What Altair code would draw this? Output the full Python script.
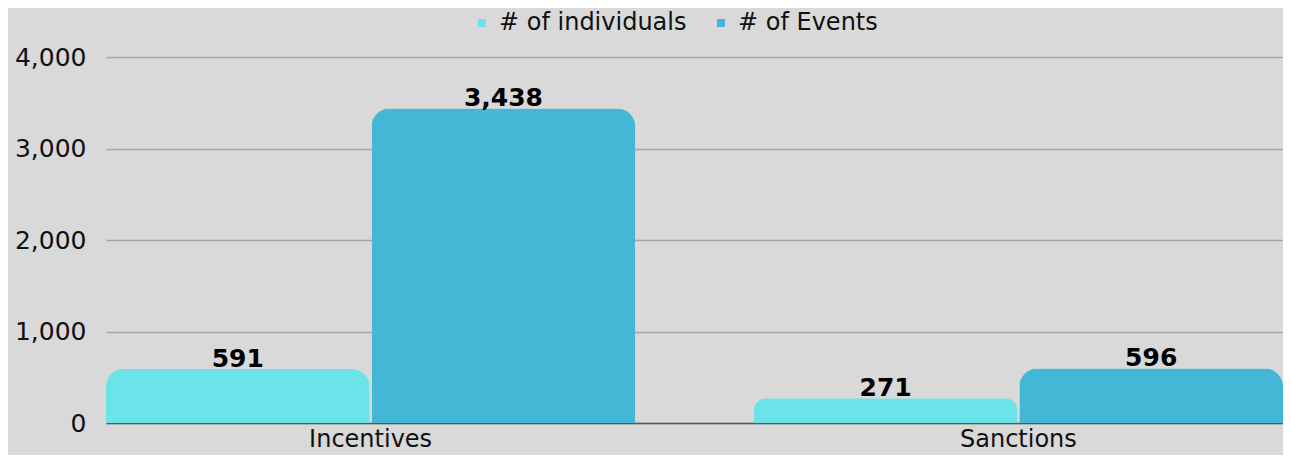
import altair as alt
import pandas as pd

categories = ["Incentives", "Sanctions"]
series = ["# of individuals", "# of Events"]
individuals = [591, 271]
events = [3438, 596]
colors = ["#6ae4e8", "#42b7d6"]
y_ticks = [0, 1000, 2000, 3000, 4000]

rows = []
for i, c in enumerate(categories):
    rows.append({"category": c, "series": series[0], "value": individuals[i]})
    rows.append({"category": c, "series": series[1], "value": events[i]})
df = pd.DataFrame(rows)

FONT = "DejaVu Sans"

x = alt.X("category:N", sort=categories, title=None,
          scale=alt.Scale(paddingInner=0.183, paddingOuter=0),
          axis=alt.Axis(labelAngle=0, ticks=False, domainColor="#595959", domainWidth=1.5,
                        labelFontSize=24, labelColor="#111111", labelPadding=4, labelFont=FONT))
xo = alt.XOffset("series:N", sort=series, scale=alt.Scale(paddingInner=0.0075, paddingOuter=0))
y = alt.Y("value:Q", title=None,
          scale=alt.Scale(domain=[0, 4000], nice=False),
          axis=alt.Axis(values=y_ticks, format=",.0f", ticks=False, domain=False,
                        gridColor="#a6a6a6", gridWidth=1.3, labelFontSize=25,
                        labelColor="#111111", labelPadding=20, labelFont=FONT))

bars = alt.Chart(df).mark_bar(cornerRadiusTopLeft=18, cornerRadiusTopRight=18).encode(
    x=x, xOffset=xo, y=y,
    color=alt.Color("series:N", sort=series, title=None,
                    scale=alt.Scale(domain=series, range=colors),
                    legend=alt.Legend(orient="none", legendX=364, legendY=-46, direction="horizontal",
                                      symbolType="square", symbolSize=64, labelFontSize=24,
                                      labelFont=FONT, labelColor="#111111", columnPadding=22,
                                      labelOffset=5, labelLimit=400, symbolStrokeWidth=0, padding=0))
)

labels = alt.Chart(df).mark_text(fontSize=25, fontWeight="bold", font=FONT, color="#000000",
                                 baseline="alphabetic", dy=-2).encode(
    x=alt.X("category:N", sort=categories), xOffset=alt.XOffset("series:N", sort=series),
    y="value:Q", text=alt.Text("value:Q", format=",.0f")
)

chart = (bars + labels).properties(
    width=1177, height=366,
    autosize=alt.AutoSizeParams(type="none"),
    padding={"left": 98, "top": 49, "right": 0, "bottom": 32},
    background="#d9d9d9",
).configure_view(stroke=None)

chart.save("out.html", embed_options={"renderer": "svg", "actions": False})
